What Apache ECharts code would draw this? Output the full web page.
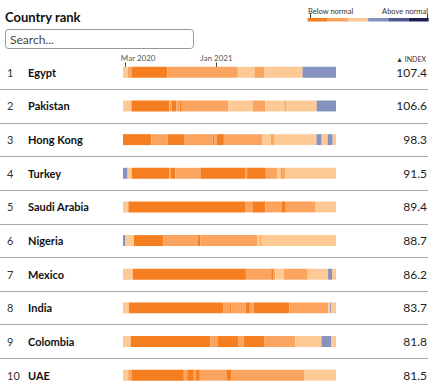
<!DOCTYPE html>
<html>
<head>
<meta charset="utf-8">
<script src="https://cdn.jsdelivr.net/npm/echarts@6/dist/echarts.min.js"></script>
<style>
html,body{margin:0;padding:0;background:#fff;}
#chart{width:437px;height:392px;}
</style>
</head>
<body>
<div id="chart"></div>
<script>
// ---- data ----
const countries = ['Egypt','Pakistan','Hong Kong','Turkey','Saudi Arabia','Nigeria','Mexico','India','Colombia','UAE'];
const ranks = ['1','2','3','4','5','6','7','8','9','10'];
const indexValues = ['107.4','106.6','98.3','91.5','89.4','88.7','86.2','83.7','81.8','81.5'];
const tickLabels = ['Mar 2020','Jan 2021'];
const legendEnds = ['Below normal','Above normal'];
// runs: [start week (from 21 Feb 2020), level 1..6]
const egypt    = [[0,3],[2.4,2],[4.3,1],[21.3,2],[55.3,3],[63.3,2],[68.1,3],[86.5,4]];
const pakistan = [[0,3],[4.1,1],[22.3,2],[23.5,1],[25.7,2],[27.3,1],[28.3,2],[50.8,3],[62.4,2],[68.5,3],[77.8,2],[78.5,3],[93.3,4]];
const hongKong = [[0,1],[13.7,2],[21.5,1],[29.7,2],[43.2,1],[44,2],[45.2,1],[48.6,2],[67.2,3],[71.2,2],[72.7,3],[93.2,4],[95.7,3],[98.6,4],[101,3]];
const turkey   = [[0,4],[2.2,3],[4.2,1],[22.3,2],[23.1,1],[25.3,2],[37.3,1],[59.1,2],[59.8,1],[68.8,2],[74.4,3],[75.8,2],[78.2,3]];
const saudi    = [[0,3],[2.6,1],[59.1,2],[62.3,1],[68.6,2],[76.3,1],[78.4,2],[92.8,3]];
const nigeria  = [[0,4],[1.2,3],[5.3,1],[19.5,2],[36.1,1],[37.3,2],[64.8,3],[66,2],[66.8,3]];
const mexico   = [[0,3],[4.7,1],[59.2,2],[71.4,1],[72.3,2],[73.3,3],[77.4,2],[89,3],[98.8,4],[100.7,3]];
const india    = [[0,3],[2.8,1],[48.2,2],[51.4,1],[52.2,2],[59.1,1],[61.1,2],[63,1],[80.2,2],[98.8,3],[99.8,4],[100.4,3]];
const colombia = [[0,3],[3.7,1],[42.1,2],[45.7,1],[55.7,2],[58.2,1],[68.2,2],[83,3],[95.6,4],[100.2,3]];
const uae      = [[0,3],[2.5,2],[4.3,1],[29.3,2],[30.9,1],[34.1,2],[35,1],[37,2],[49.8,1],[52.3,2],[87.4,3]];
const runsByCountry = [egypt,pakistan,hongKong,turkey,saudi,nigeria,mexico,india,colombia,uae];
const totalWeeks = 102.6;
const levelColors = ['#f57f20','#fba45f','#fdc995','#8592bf','#4c5892','#1c1f4d'];

// ---- build ----
const DAY = 864e5, WEEK = 7*DAY;
const day0 = Date.UTC(2020,1,21);
const tickDates = [Date.UTC(2020,2,1), Date.UTC(2021,0,1)];
const stripData = [];
runsByCountry.forEach((runs, ci) => {
  runs.forEach((r, j) => {
    const end = j+1 < runs.length ? runs[j+1][0] : totalWeeks;
    stripData.push([day0 + r[0]*WEEK, day0 + end*WEEK, ci, r[1]]);
  });
});

const FONT = 'Lato, "Open Sans", sans-serif';
const chart = echarts.init(document.getElementById('chart'), null, {renderer:'svg'});
const GTOP = 55.5, GH = 338;
const LEG_X = 307.5, LEG_W = 20.2;
const legendGraphics = levelColors.map((c,i)=>({
  type:'rect', shape:{x:LEG_X + i*LEG_W, y:18, width:LEG_W, height:3.5}, style:{fill:c}
}));
chart.setOption({
  animation:false,
  grid:[
    {left:123, width:213, top:GTOP, height:GH},
    {left:0, width:428, top:GTOP, height:GH}
  ],
  xAxis:[
    {gridIndex:0, type:'value', position:'top', offset:-7,
     min:day0, max:day0+totalWeeks*WEEK,
     axisLine:{show:false},
     axisTick:{show:true, inside:true, length:5, customValues:tickDates, lineStyle:{color:'#444', width:1}},
     axisLabel:{customValues:tickDates, margin:1, fontFamily:FONT, fontSize:8, color:'#555',
       formatter:(v)=>{ const i = tickDates.indexOf(v); return i===0 ? '{a|'+tickLabels[0]+'}' : '{b|'+tickLabels[1]+'}'; },
       rich:{a:{padding:[0,0,0,25], fontFamily:FONT, fontSize:8, color:'#555'}, b:{fontFamily:FONT, fontSize:8, color:'#555'}}},
     splitLine:{show:false}},
    {gridIndex:1, type:'value', min:0, max:1, show:false}
  ],
  yAxis:[
    {gridIndex:0, type:'category', inverse:true, data:countries,
     axisLine:{show:false}, axisTick:{show:false}, splitLine:{show:false},
     axisLabel:{align:'left', margin:116,
       formatter:(v,i)=>'{r|'+ranks[i]+'}{n|'+v+'}',
       rich:{r:{width:21, fontFamily:FONT, fontSize:11, color:'#333'},
             n:{fontFamily:FONT, fontSize:11, fontWeight:'bold', color:'#111'}}}},
    {gridIndex:0, type:'category', inverse:true, position:'right', data:countries,
     axisLine:{show:false}, axisTick:{show:false}, splitLine:{show:false},
     axisLabel:{align:'right', margin:91, fontFamily:FONT, fontSize:12, color:'#222',
       formatter:(v,i)=>indexValues[i]}},
    {gridIndex:1, type:'value', min:0, max:10, interval:1, inverse:true,
     axisLine:{show:false}, axisTick:{show:false}, axisLabel:{show:false},
     splitLine:{show:true, lineStyle:{width:1,
       color:['rgba(0,0,0,0)','#aaa','#aaa','#aaa','#aaa','#aaa','#aaa','#aaa','#aaa','#aaa','rgba(0,0,0,0)']}}}
  ],
  series:[{
    type:'custom', xAxisIndex:0, yAxisIndex:0,
    encode:{x:[0,1], y:2},
    data:stripData,
    renderItem:(params, api)=>{
      const s = api.coord([api.value(0), api.value(2)]);
      const e = api.coord([api.value(1), api.value(2)]);
      const h = api.size([0,1])[1]*0.325;
      return {type:'rect', shape:{x:s[0], y:s[1]-h/2, width:e[0]-s[0], height:h},
              style:{fill:levelColors[api.value(3)-1]}};
    }
  }],
  graphic:[
    {type:'text', left:5, top:10, style:{text:'Country rank', font:'bold 13px '+FONT, fill:'#111'}},
    {type:'rect', shape:{x:5.5, y:29.5, width:188, height:19, r:3}, style:{fill:'#fff', stroke:'#999', lineWidth:1}},
    {type:'text', left:10, top:33, style:{text:'Search...', font:'12px '+FONT, fill:'#444'}},
    {type:'text', left:308, top:7, style:{text:legendEnds[0], font:'7.5px '+FONT, fill:'#333'}},
    {type:'text', right:9, top:7, style:{text:legendEnds[1], font:'7.5px '+FONT, fill:'#333'}},
    {type:'line', shape:{x1:310.5, y1:14, x2:310.5, y2:18}, style:{stroke:'#333', lineWidth:1}},
    {type:'line', shape:{x1:427.5, y1:14, x2:427.5, y2:18}, style:{stroke:'#333', lineWidth:1}},
    {type:'text', right:11, top:55.5, style:{text:'▲ INDEX', font:'7px '+FONT, fill:'#333'}}
  ].concat(legendGraphics)
});
</script>
</body>
</html>
